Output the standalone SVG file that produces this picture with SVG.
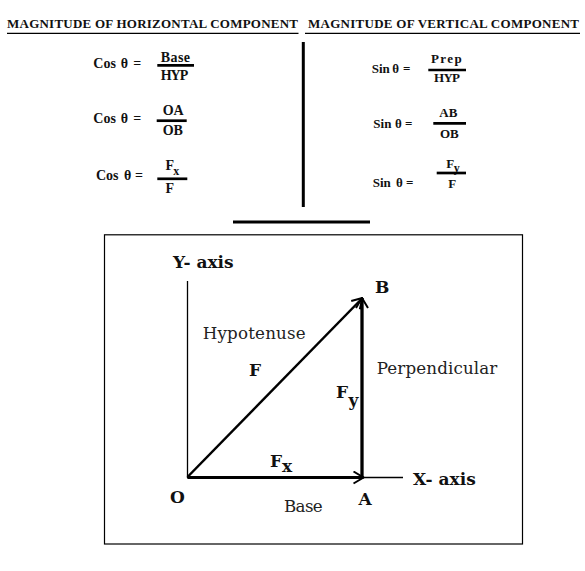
<svg xmlns="http://www.w3.org/2000/svg" width="585" height="571" viewBox="0 0 585 571">
<defs>
<style>
.hd{font-family:"Liberation Serif","Times New Roman",serif;font-weight:bold;font-size:13px;fill:#111}
.fm{font-family:"Liberation Serif","Times New Roman",serif;font-weight:bold;font-size:14px;fill:#111}
.fr{font-family:"Liberation Serif","Times New Roman",serif;font-weight:bold;font-size:13px;fill:#111}
.sb{font-size:12px}
.lb{font-family:"DejaVu Serif",serif;font-weight:bold;font-size:17px;fill:#111}
.lr{font-family:"DejaVu Serif",serif;font-size:16.7px;fill:#222}
.bar{stroke:#000;stroke-width:2.7;fill:none}
.thin{stroke:#000;stroke-width:1.3;fill:none}
.vec{stroke:#000;fill:none;marker-end:url(#chev)}
</style>
<marker id="chev" viewBox="0 0 12 14" refX="11" refY="7" markerWidth="12" markerHeight="14" markerUnits="userSpaceOnUse" orient="auto">
<path d="M1,1 L11,7 L1,13" fill="none" stroke="#000" stroke-width="2"/>
</marker>
</defs>
<rect width="585" height="571" fill="#fff"/>

<g id="headers">
<text class="hd" x="7" y="28" textLength="291">MAGNITUDE OF HORIZONTAL COMPONENT</text>
<line class="thin" x1="7" y1="33.3" x2="298.5" y2="33.3"/>
<text class="hd" x="308" y="28" textLength="271">MAGNITUDE OF VERTICAL COMPONENT</text>
<line class="thin" x1="305" y1="33.3" x2="580" y2="33.3"/>
</g>

<g id="dividers">
<line x1="303.3" y1="42" x2="303.3" y2="207" stroke="#000" stroke-width="3"/>
<line x1="233" y1="222" x2="370" y2="222" stroke="#000" stroke-width="3"/>
</g>

<g id="cos-base-hyp">
<text class="fm" x="93.3" y="68.3">Cos</text>
<text class="fm" x="120.7" y="68.3">θ</text>
<text class="fm" x="133.3" y="68.3">=</text>
<text class="fm" x="160.7" y="62" textLength="29.3">Base</text>
<line class="bar" x1="157.3" y1="65.3" x2="194" y2="65.3"/>
<text class="fm" x="160.7" y="80" textLength="27.6">HYP</text>
</g>

<g id="cos-oa-ob">
<text class="fm" x="93.3" y="123.3">Cos</text>
<text class="fm" x="120.7" y="123.3">θ</text>
<text class="fm" x="133.3" y="123.3">=</text>
<text class="fm" x="162.7" y="115">OA</text>
<line class="bar" x1="156.7" y1="120.7" x2="186.7" y2="120.7"/>
<text class="fm" x="162.7" y="135">OB</text>
</g>

<g id="cos-fx-f">
<text class="fm" x="96" y="180">Cos</text>
<text class="fm" x="124" y="180">θ</text>
<text class="fm" x="135" y="180">=</text>
<text class="fm" x="165.5" y="170">F</text>
<text class="fm sb" x="173.3" y="175">x</text>
<line class="bar" x1="157.3" y1="178.8" x2="187.3" y2="178.8"/>
<text class="fm" x="165.5" y="192.7">F</text>
</g>

<g id="sin-prep-hyp">
<text class="fr" x="371.7" y="72.7">Sin</text>
<text class="fr" x="392.3" y="72.7">θ</text>
<text class="fr" x="403" y="72.7">=</text>
<text class="fr" x="431" y="63.3" textLength="30.7">Prep</text>
<line class="bar" x1="428.3" y1="70" x2="466" y2="70"/>
<text class="fr" x="434" y="81.7" textLength="26">HYP</text>
</g>

<g id="sin-ab-ob">
<text class="fr" x="373.3" y="128.3">Sin</text>
<text class="fr" x="395" y="128.3">θ</text>
<text class="fr" x="405" y="128.3">=</text>
<text class="fr" x="439.3" y="117.3">AB</text>
<line class="bar" x1="433.3" y1="123.3" x2="466" y2="123.3"/>
<text class="fr" x="440" y="137.7">OB</text>
</g>

<g id="sin-fy-f">
<text class="fr" x="372.7" y="186.7">Sin</text>
<text class="fr" x="396" y="186.7">θ</text>
<text class="fr" x="406" y="186.7">=</text>
<text class="fr" x="446.2" y="168.3">F</text>
<text class="fr sb" x="453.8" y="171.5">y</text>
<line class="bar" x1="436.7" y1="173" x2="466" y2="173"/>
<text class="fr" x="448.3" y="187.7">F</text>
</g>

<g id="frame">
<rect x="104.5" y="234.8" width="418" height="309.2" fill="none" stroke="#000" stroke-width="1.2"/>
</g>

<g id="connectors">
<line id="y-axis" class="thin" x1="187.5" y1="281" x2="187.5" y2="478"/>
<line id="x-axis" class="thin" x1="187" y1="477.5" x2="403" y2="477.5"/>
<line id="vec-F" class="vec" stroke-width="2.5" x1="187.5" y1="477" x2="362.5" y2="298"/>
<line id="vec-Fy" class="vec" stroke-width="3.3" x1="362" y1="478" x2="362" y2="298"/>
<line id="vec-Fx" class="vec" stroke-width="3" x1="187.5" y1="477.5" x2="363.5" y2="477.5"/>
</g>

<g id="node-yaxis"><text class="lb" x="173" y="268">Y- axis</text></g>
<g id="node-xaxis"><text class="lb" x="413" y="485">X- axis</text></g>
<g id="node-O"><text class="lb" x="170" y="503.3">O</text></g>
<g id="node-A"><text class="lb" x="358.5" y="505">A</text></g>
<g id="node-B"><text class="lb" x="375" y="292.7">B</text></g>
<g id="label-hyp"><text class="lr" x="202.7" y="339.3" textLength="103">Hypotenuse</text></g>
<g id="label-F"><text class="lb" x="249" y="375.7">F</text></g>
<g id="label-perp"><text class="lr" x="376.7" y="374" textLength="120.6">Perpendicular</text></g>
<g id="label-Fy"><text class="lb" x="336" y="398.3">F</text><text class="lb" font-size="15" x="348.5" y="406">y</text></g>
<g id="label-Fx"><text class="lb" x="270" y="466.7">F</text><text class="lb" font-size="15" x="282" y="472.3">x</text></g>
<g id="label-base"><text class="lr" x="284" y="511.7" textLength="38.7">Base</text></g>
</svg>
